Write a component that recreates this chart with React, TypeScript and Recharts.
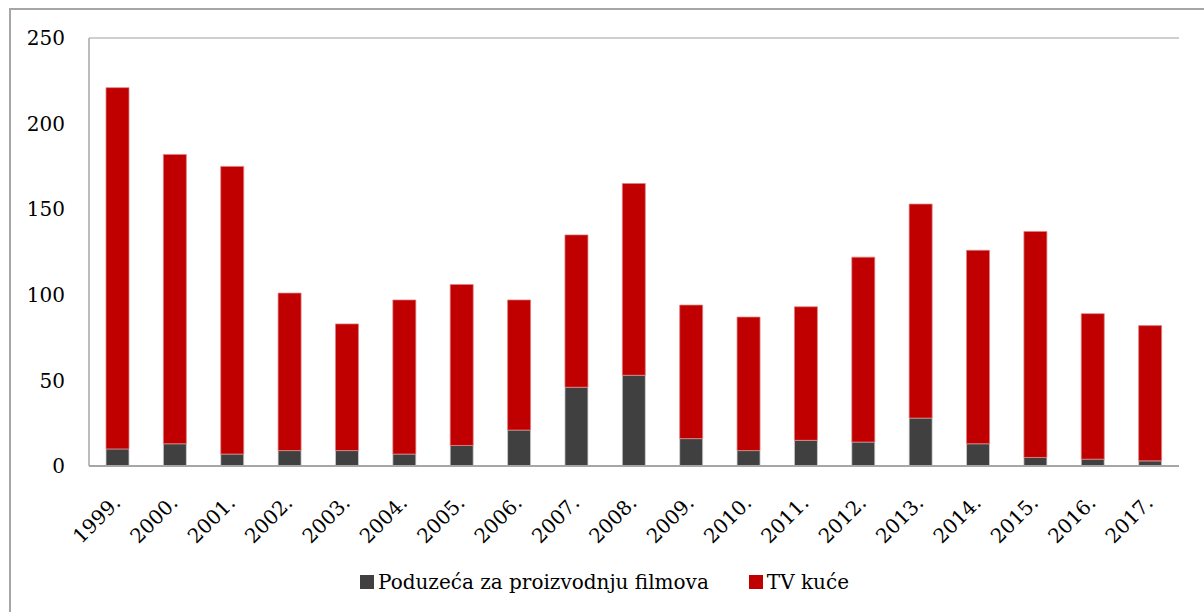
import React from 'react';
import { BarChart, Bar, XAxis, YAxis, CartesianGrid, Legend } from 'recharts';

const years = ['1999.', '2000.', '2001.', '2002.', '2003.', '2004.', '2005.', '2006.', '2007.', '2008.', '2009.', '2010.', '2011.', '2012.', '2013.', '2014.', '2015.', '2016.', '2017.'];
const filmCompanies = [10, 13, 7, 9, 9, 7, 12, 21, 46, 53, 16, 9, 15, 14, 28, 13, 5, 4, 3];
const tvHouses = [211, 169, 168, 92, 74, 90, 94, 76, 89, 112, 78, 78, 78, 108, 125, 113, 132, 85, 79];
const yTicks = [0, 50, 100, 150, 200, 250];

const SERIES_FILM = 'Poduzeća za proizvodnju filmova';
const SERIES_TV = 'TV kuće';
const COLOR_FILM = '#404040';
const COLOR_TV = '#C00000';
const FONT = '"DejaVu Serif", "Liberation Serif", serif';

const data = years.map((y, i) => ({ year: y, film: filmCompanies[i], tv: tvHouses[i] }));

const XTick = (props: any) => {
  const { x, y, payload } = props;
  return (
    <g transform={`translate(${x + 4},${y + 30})`}>
      <text textAnchor="end" transform="rotate(-45)" fontFamily={FONT} fontSize={20} fill="#000">
        {payload.value}
      </text>
    </g>
  );
};

const LegendContent = () => (
  <div style={{ height: 60, display: 'flex', justifyContent: 'center', alignItems: 'center', fontFamily: FONT, fontSize: 20, color: '#000', paddingLeft: 30 }}>
    <span style={{ display: 'inline-flex', alignItems: 'center', marginRight: 40 }}>
      <span style={{ width: 14, height: 14, background: COLOR_FILM, display: 'inline-block', marginRight: 4 }} />
      {SERIES_FILM}
    </span>
    <span style={{ display: 'inline-flex', alignItems: 'center' }}>
      <span style={{ width: 14, height: 14, background: COLOR_TV, display: 'inline-block', marginRight: 4 }} />
      {SERIES_TV}
    </span>
  </div>
);

export default function App() {
  return (
    <div style={{ position: 'absolute', left: 0, top: 0, width: 1204, height: 612, overflow: 'hidden', background: '#fff' }}>
      <div style={{ position: 'absolute', left: 9, top: 8, width: 1400, height: 800, border: '2px solid #a6a6a6', boxSizing: 'border-box' }} />
      <div style={{ position: 'absolute', left: 0, top: 0 }}>
        <BarChart width={1204} height={612} data={data} margin={{ top: 38, right: 25, bottom: 0, left: 0 }} barSize={23}>
          <CartesianGrid vertical={false} stroke="#bfbfbf" strokeWidth={1.5} />
          <XAxis dataKey="year" tick={<XTick />} tickLine={false} axisLine={{ stroke: '#a6a6a6', strokeWidth: 2 }} height={86} interval={0} />
          <YAxis yAxisId="left" domain={[0, 250]} ticks={yTicks} width={89} tickLine={false} tickMargin={18}
            axisLine={{ stroke: '#a6a6a6', strokeWidth: 1.5 }}
            tick={{ fontFamily: FONT, fontSize: 20, fill: '#000' }} />
          <YAxis yAxisId="right" orientation="right" domain={[0, 250]} ticks={yTicks} width={0} tick={false} tickLine={false}
            axisLine={{ stroke: '#a6a6a6', strokeWidth: 1.5 }} />
          <Legend verticalAlign="bottom" content={<LegendContent />} />
          <Bar yAxisId="left" dataKey="film" name={SERIES_FILM} stackId="a" fill={COLOR_FILM} stroke="#d0d0d0" strokeWidth={0.75} isAnimationActive={false} />
          <Bar yAxisId="left" dataKey="tv" name={SERIES_TV} stackId="a" fill={COLOR_TV} stroke="#e08080" strokeWidth={0.75} isAnimationActive={false} />
        </BarChart>
      </div>
    </div>
  );
}
